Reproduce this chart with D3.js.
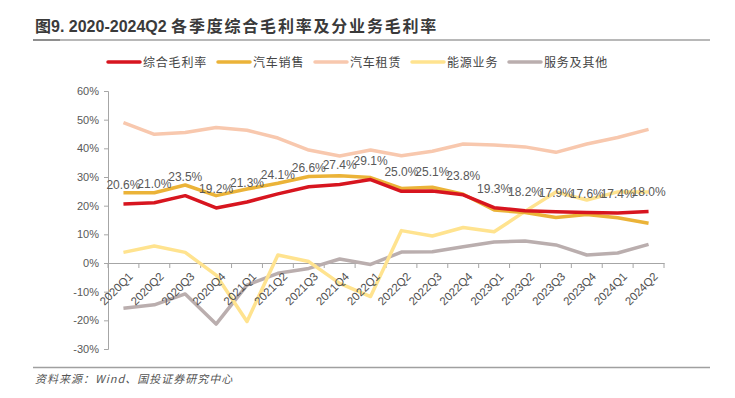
<!DOCTYPE html>
<html><head><meta charset="utf-8">
<script src="https://cdn.jsdelivr.net/npm/d3@7/dist/d3.min.js"></script>
<style>body{margin:0;background:#fff}svg{display:block}</style>
</head><body><svg id="c" width="735" height="398"></svg>
<script>
const categories = ["2020Q1","2020Q2","2020Q3","2020Q4","2021Q1","2021Q2","2021Q3","2021Q4","2022Q1","2022Q2","2022Q3","2022Q4","2023Q1","2023Q2","2023Q3","2023Q4","2024Q1","2024Q2"];
const overall = [20.6,21.0,23.5,19.2,21.3,24.1,26.6,27.4,29.1,25.0,25.1,23.8,19.3,18.2,17.9,17.6,17.4,18.0];
const carSales = [24.5,24.5,27.2,23.5,25.8,27.8,30.2,30.4,29.8,26.0,26.4,24.0,18.5,17.6,15.9,16.9,15.8,13.9];
const carRental = [49.0,44.9,45.5,47.3,46.3,43.6,39.4,37.3,39.4,37.4,39.0,41.5,41.2,40.5,38.6,41.5,43.8,46.6];
const energy = [3.7,5.9,3.7,-4.2,-20.4,2.8,0.5,-7.1,-11.7,11.3,9.4,12.4,10.9,18.0,24.8,22.0,24.8,24.8];
const services = [-15.8,-14.6,-10.8,-21.3,-7.7,-3.6,-1.9,1.4,-0.5,3.8,3.9,5.7,7.3,7.7,6.3,2.8,3.5,6.5];
const yTicks = [-30,-20,-10,0,10,20,30,40,50,60];
const seriesNames = ["综合毛利率","汽车销售","汽车租赁","能源业务","服务及其他"];
const seriesColors = ["#D7151F","#EBB338","#F8C8AE","#FFE38F","#BAAEAE"];

const seriesData = [overall, carSales, carRental, energy, services];
const svg = d3.select("#c");
const latin = "'Liberation Sans', Arial, sans-serif";
const cjk = "'Noto Sans CJK SC', sans-serif";

// Title
const title = svg.append("text").attr("x",35).attr("y",32).attr("fill","#3a3a3a")
  .attr("font-size",16).attr("font-weight","bold").attr("font-family",latin);
title.append("tspan").attr("font-family",cjk).text("图");
title.append("tspan").text("9. 2020-2024Q2 ");
title.append("tspan").attr("font-family",cjk).attr("letter-spacing",1.8).text("各季度综合毛利率及分业务毛利率");
svg.append("line").attr("x1",33).attr("x2",710).attr("y1",40).attr("y2",40).attr("stroke","#a0a0a0").attr("stroke-width",1.5);
svg.append("line").attr("x1",33).attr("x2",60).attr("y1",40).attr("y2",40).attr("stroke","#808080").attr("stroke-width",1.5);

// Source
svg.append("line").attr("x1",33).attr("x2",710).attr("y1",367.5).attr("y2",367.5).attr("stroke","#a0a0a0").attr("stroke-width",1.5);
svg.append("text").attr("x",35).attr("y",383).attr("font-size",11).attr("font-style","italic")
  .attr("font-family",cjk).attr("letter-spacing",1).attr("fill","#555").text("资料来源：Wind、国投证券研究中心");

const x = d3.scaleBand().domain(categories).range([108,664]);
const y = d3.scaleLinear().domain([-30,60]).range([349,91]);

// Y axis
const yAxis = svg.append("g").attr("transform","translate(108,0)")
  .call(d3.axisLeft(y).tickValues(yTicks).tickSize(4).tickPadding(5).tickFormat(d=>d+"%"));
yAxis.selectAll("path,line").attr("stroke","#a6a6a6");
yAxis.selectAll("text").attr("font-family",latin).attr("font-size",11).attr("fill","#595959");

// X axis at 0
const xAxis = svg.append("g").attr("transform",`translate(0,${y(0)})`)
  .call(d3.axisBottom(x).tickSize(0).tickFormat(""));
xAxis.select("path").attr("stroke","#a6a6a6");
const bounds = categories.map(c=>x(c)).concat([x.range()[1]]);
xAxis.selectAll(".bt").data(bounds).enter().append("line").attr("class","bt")
  .attr("x1",d=>d).attr("x2",d=>d).attr("y1",0).attr("y2",5).attr("stroke","#a6a6a6");

// Lines
const line = d3.line().x((d,i)=>x(categories[i])+x.bandwidth()/2).y(d=>y(d));
const drawOrder = [2,4,3,1,0];
drawOrder.forEach(k=>{
  svg.append("path").datum(seriesData[k]).attr("d",line).attr("fill","none")
    .attr("stroke",seriesColors[k]).attr("stroke-width",3.5).attr("stroke-linejoin","round");
});

// X labels
svg.append("g").selectAll("text").data(categories).enter().append("text")
  .attr("transform",d=>`translate(${x(d)+x.bandwidth()/2+4},${y(0)+8}) rotate(-45)`)
  .attr("text-anchor","end").attr("dy","0.75em").attr("font-family",latin).attr("font-size",11.5)
  .attr("fill","#505050").text(d=>d);

// Data labels
svg.append("g").selectAll("text").data(overall).enter().append("text")
  .attr("x",(d,i)=>x(categories[i])+x.bandwidth()/2).attr("y",d=>y(d)-15)
  .attr("text-anchor","middle").attr("font-family",latin).attr("font-size",12).attr("fill","#595959")
  .text(d=>d.toFixed(1)+"%");

// Legend
const legX = [108,218,315,412,509];
const leg = svg.append("g");
seriesNames.forEach((n,i)=>{
  leg.append("line").attr("x1",legX[i]).attr("x2",legX[i]+32).attr("y1",62).attr("y2",62)
    .attr("stroke",seriesColors[i]).attr("stroke-width",3.5).attr("stroke-linecap","round");
  leg.append("text").attr("x",legX[i]+35).attr("y",66.5).attr("font-family",cjk).attr("font-size",12)
    .attr("letter-spacing",0.8).attr("fill","#444").text(n);
});
</script></body></html>
